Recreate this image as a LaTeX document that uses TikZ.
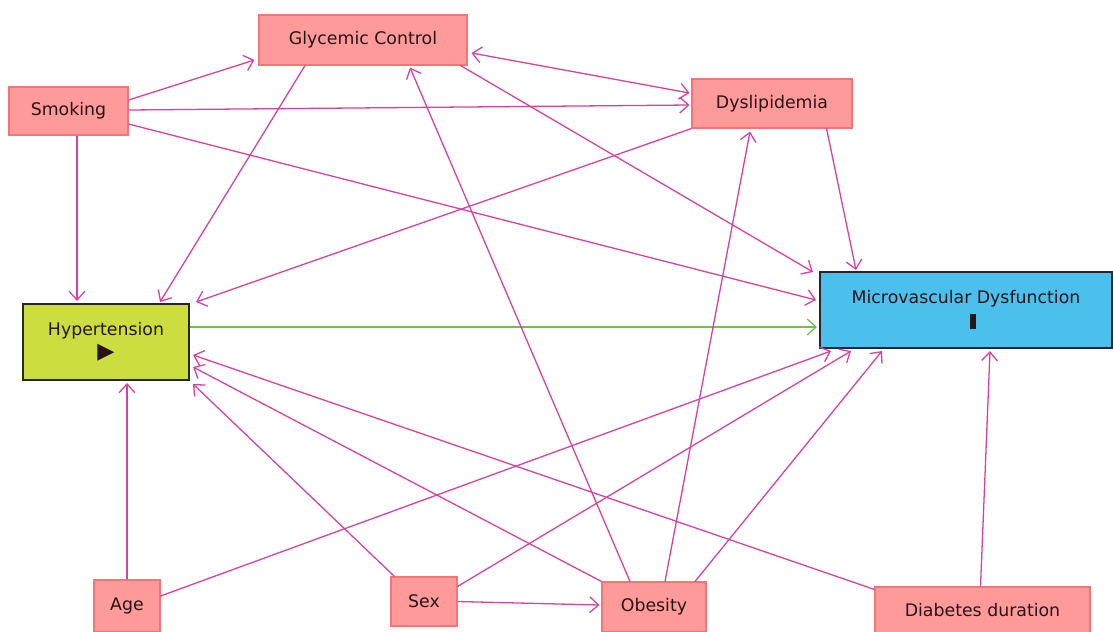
\documentclass[tikz,border=0pt]{standalone}
\usepackage{fontspec}
\setmainfont{DejaVu Sans}
\usetikzlibrary{arrows.meta,calc}

\definecolor{boxpink}{RGB}{255,154,154}
\definecolor{boxedge}{RGB}{242,118,118}
\definecolor{linkpink}{RGB}{214,64,160}
\definecolor{hypfill}{RGB}{204,221,63}
\definecolor{mvdfill}{RGB}{76,192,236}
\definecolor{linkgreen}{RGB}{112,192,80}
\definecolor{labeltext}{RGB}{40,20,20}

\begin{document}
\begin{tikzpicture}[x=0.03cm,y=-0.03cm,
  every node/.style={font=\fontsize{14.8}{17}\selectfont,text=labeltext},
  factor/.style={draw=boxedge,fill=boxpink,line width=0.9pt,inner sep=0pt},
  mainbox/.style={draw=black!85,line width=1.7pt,inner sep=0pt,align=center},
  >={Straight Barb[length=7.5pt,width=13.5pt]},
  link/.style={->,linkpink,line width=1.1pt}]
  \useasboundingbox (0,0) rectangle (1113,631);

  % Top row of factors
  \node[factor,minimum width=3.57cm,minimum height=1.44cm] (smok) at (68.5,111) {Smoking};
  \node[factor,minimum width=6.24cm,minimum height=1.5cm] (glyc) at (363,40) {Glycemic Control};
  \node[factor,minimum width=4.8cm,minimum height=1.47cm] (dysl) at (772,103.5) {Dyslipidemia};

  % Exposure and outcome
  \node[mainbox,fill=hypfill,minimum width=4.98cm,minimum height=2.28cm] (hyp) at (106,342)
    {Hypertension\\[3pt]{\fontsize{19}{19}\selectfont ▶}};
  \node[mainbox,fill=mvdfill,minimum width=8.76cm,minimum height=2.28cm] (mvd) at (966,310)
    {Microvascular Dysfunction\\[5pt]\hspace*{12pt}\rule{4.5pt}{13.5pt}};

  % Bottom row of factors
  \node[factor,minimum width=1.98cm,minimum height=1.56cm] (age) at (127,606) {Age};
  \node[factor,minimum width=1.98cm,minimum height=1.47cm] (sex) at (424,601.5) {Sex};
  \node[factor,minimum width=3.12cm,minimum height=1.5cm] (obes) at (654,607) {Obesity};
  \node[factor,minimum width=6.45cm,minimum height=1.38cm] (diab) at (982.5,610) {Diabetes duration};

  % Smoking
  \draw[link] ($(smok.east)+(0,-11)$) -- ($(glyc.west)+(-4,20)$);
  \draw[link] ($(smok.east)+(0,-1)$) -- ($(dysl.west)+(-2,1.5)$);
  \draw[link] ($(smok.east)+(0,13)$) -- ($(mvd.west)+(-3,-10)$);
  \draw[link] ($(smok.south)+(8.5,0)$) -- ($(hyp.north)+(-29,-2)$);

  % Glycemic control
  \draw[link,<->] ($(glyc.east)+(4,13)$) -- ($(dysl.west)+(-2,-10.5)$);
  \draw[link] ($(glyc.south)+(-58,0)$) -- ($(hyp.north)+(54,-1)$);
  \draw[link] ($(glyc.south east)+(-7,0)$) -- ($(mvd.north west)+(-6,1)$);

  % Dyslipidemia
  \draw[link] (dysl.south west) -- ($(hyp.north east)+(6,-1)$);
  \draw[link] ($(dysl.south east)+(-26,0)$) -- ($(mvd.north west)+(37,-1)$);

  % Hypertension to outcome
  \draw[link,linkgreen] ($(hyp.east)+(0,-15)$) -- ($(mvd.west)+(-2,17)$);

  % Age
  \draw[link] (age.north) -- ($(hyp.south)+(21,2)$);
  \draw[link] ($(age.east)+(0,-10)$) -- ($(mvd.south west)+(12,2)$);

  % Sex
  \draw[link] ($(sex.north west)+(4,0)$) -- ($(hyp.south east)+(3,3)$);
  \draw[link] ($(sex.north east)+(0,10)$) -- ($(mvd.south west)+(32,2)$);
  \draw[link] (sex.east) -- ($(obes.west)+(-2,-2)$);

  % Obesity
  \draw[link] (obes.north west) -- ($(hyp.east)+(3,25)$);
  \draw[link] ($(obes.north)+(-24,0)$) -- ($(glyc.south)+(47,2)$);
  \draw[link] ($(obes.north)+(11,0)$) -- ($(dysl.south)+(-22,3)$);
  \draw[link] ($(obes.north)+(41,0)$) -- ($(mvd.south)+(-84,2)$);

  % Diabetes duration
  \draw[link] ($(diab.north west)+(0,3)$) -- ($(hyp.east)+(3,13)$);
  \draw[link] ($(diab.north)+(-2,0)$) -- ($(mvd.south)+(24,2)$);
\end{tikzpicture}
\end{document}
